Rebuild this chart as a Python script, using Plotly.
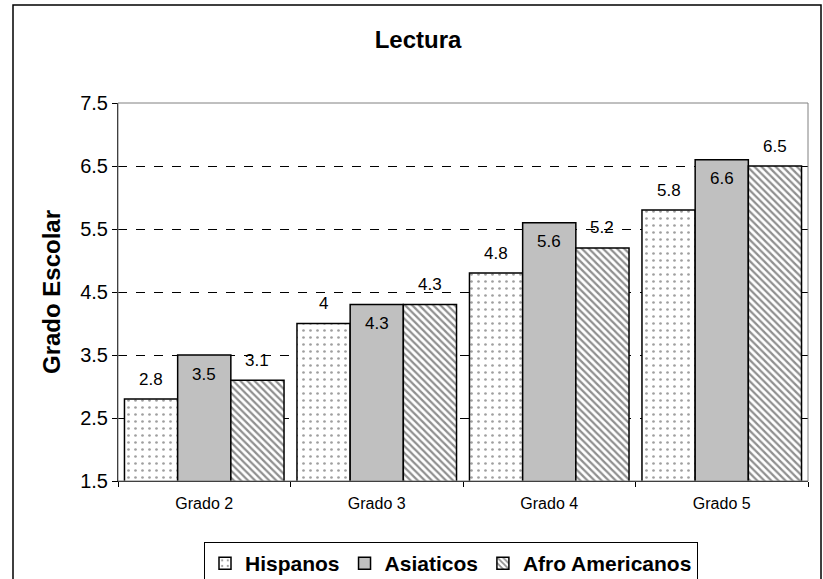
import plotly.graph_objects as go

categories = ["Grado 2", "Grado 3", "Grado 4", "Grado 5"]
hispanos = [2.8, 4.0, 4.8, 5.8]
asiaticos = [3.5, 4.3, 5.6, 6.6]
afro = [3.1, 4.3, 5.2, 6.5]
series_names = ["Hispanos", "Asiaticos", "Afro Americanos"]
y_ticks = [1.5, 2.5, 3.5, 4.5, 5.5, 6.5, 7.5]

FONT = "Liberation Sans, Arial, sans-serif"
W, H = 823, 579
L, R, T, B = 118, 15, 103, 98
plot_w = W - L - R
plot_h = H - T - B
bargap = 0.075
bar_px = plot_w / len(categories) * (1 - bargap) / 3

fig = go.Figure()
fig.add_trace(go.Bar(
    name=series_names[0], x=categories, y=hispanos,
    marker=dict(color="white", line=dict(color="black", width=1.5),
                pattern=dict(shape=".", fgcolor="#404040", bgcolor="white", size=7, solidity=0.12)),
))
fig.add_trace(go.Bar(
    name=series_names[1], x=categories, y=asiaticos,
    marker=dict(color="#c0c0c0", line=dict(color="black", width=1.5)),
))
fig.add_trace(go.Bar(
    name=series_names[2], x=categories, y=afro,
    marker=dict(color="white", line=dict(color="black", width=1.5),
                pattern=dict(shape="\\", fgcolor="#202020", bgcolor="white", size=5, solidity=0.45)),
))

annotations = []
for i, (vals, shift) in enumerate([(hispanos, 20), (asiaticos, -19), (afro, 20)]):
    for c, v in zip(categories, vals):
        annotations.append(dict(
            x=c, y=v, xref="x", yref="y", text=f"{v:g}", showarrow=False,
            xshift=(i - 1) * bar_px, yshift=shift, yanchor="middle",
            font=dict(family=FONT, size=17, color="black"),
        ))

shapes = [
    # outer chart border
    dict(type="rect", xref="paper", yref="paper",
         x0=(13 - L) / plot_w, x1=(821 - L) / plot_w,
         y0=-0.4, y1=(H - B - 5) / plot_h,
         line=dict(color="black", width=1.5), fillcolor="rgba(0,0,0,0)", layer="below"),
    # plot area border (gray)
    dict(type="rect", xref="paper", yref="paper", x0=0, x1=1, y0=0, y1=1,
         line=dict(color="#808080", width=1), fillcolor="rgba(0,0,0,0)", layer="above"),
]

fig.update_layout(
    width=W, height=H,
    margin=dict(l=L, r=R, t=T, b=B, autoexpand=False),
    barmode="group", bargap=bargap, bargroupgap=0,
    paper_bgcolor="white", plot_bgcolor="white",
    title=dict(text="<b>Lectura</b>", x=418 / W, xref="container", xanchor="center",
               y=1 - 40 / H, yref="container", yanchor="middle",
               font=dict(family=FONT, size=24, color="black")),
    font=dict(family=FONT, color="black"),
    showlegend=True,
    legend=dict(orientation="h", x=(204 - L) / plot_w, xanchor="left",
                y=(H - B - 542) / plot_h, yanchor="top",
                bordercolor="black", borderwidth=1, bgcolor="white",
                font=dict(family=FONT, size=21, color="black", weight="bold"),
                itemwidth=30, tracegroupgap=0),
    annotations=annotations,
    shapes=shapes,
)
fig.update_xaxes(
    type="category", showline=True, linecolor="black", linewidth=1,
    ticks="outside", tickson="boundaries", ticklen=5, tickcolor="black",
    tickfont=dict(family=FONT, size=16, color="black"), ticklabelstandoff=8,
    showgrid=False, zeroline=False,
)
fig.update_yaxes(
    range=[1.5, 7.5], tickvals=y_ticks, ticktext=[f"{t:.1f}" for t in y_ticks],
    showline=True, linecolor="black", linewidth=1,
    ticks="outside", ticklen=5, tickcolor="black",
    tickfont=dict(family=FONT, size=20, color="black"),
    showgrid=True, gridcolor="black", gridwidth=1, griddash="dash",
    zeroline=False,
    title=dict(text="<b>Grado Escolar</b>", standoff=12,
               font=dict(family=FONT, size=24, color="black")),
)

fig.write_html("out.html", config={"displayModeBar": False},
               post_script="document.body.style.margin='0';document.body.style.overflow='hidden';")
